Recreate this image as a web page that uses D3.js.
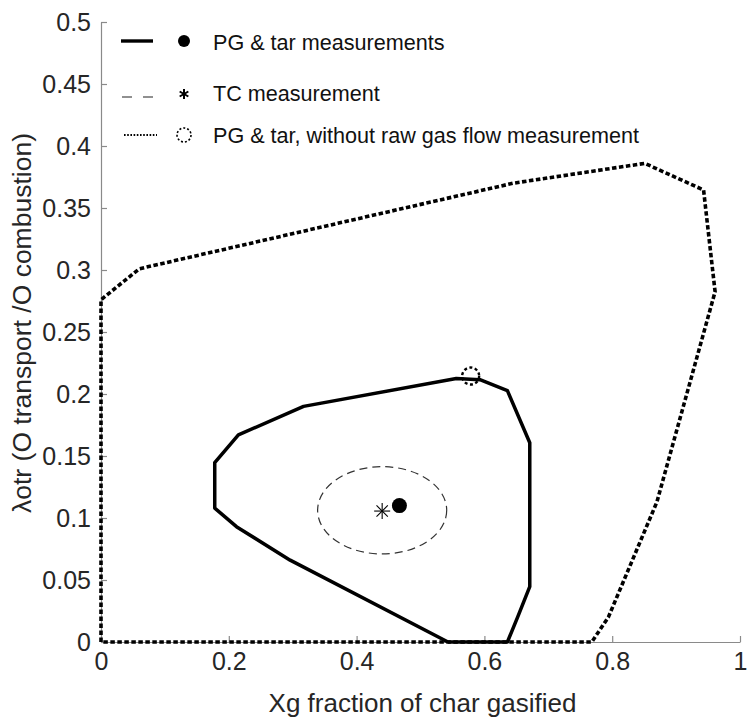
<!DOCTYPE html>
<html>
<head>
<meta charset="utf-8">
<script src="https://cdn.jsdelivr.net/npm/d3@7"></script>
<style>
  html, body { margin: 0; padding: 0; background: #fff; }
  svg { display: block; font-family: "Liberation Sans", Arial, Helvetica, sans-serif; }
</style>
</head>
<body>
<svg id="chart" width="748" height="717"></svg>
<script>
// Operating envelope without raw gas flow measurement (dotted boundary)
const envelopeNoFlowX = [0, 0, 0.06, 0.645, 0.851, 0.943, 0.961, 0.870, 0.794, 0.768, 0];
const envelopeNoFlowY = [0, 0.276, 0.301, 0.370, 0.386, 0.3645, 0.2825, 0.113, 0.020, 0, 0];

// Envelope with PG & tar measurements (solid boundary)
const envelopePGX = [0.543, 0.296, 0.212, 0.178, 0.178, 0.215, 0.317, 0.556, 0.593, 0.636, 0.671, 0.671, 0.652, 0.636, 0.543];
const envelopePGY = [0, 0.066, 0.093, 0.108, 0.1446, 0.167, 0.190, 0.2125, 0.2115, 0.2027, 0.1607, 0.0446, 0.020, 0, 0];

// TC measurement uncertainty ellipse: centre and half-widths
const tcEllipseCenter = [0.440, 0.1062];
const tcEllipseRadius = [0.101, 0.0352];

// Point estimates
const pointPG = [0.467, 0.110];
const pointTC = [0.440, 0.1056];
const pointNoFlow = [0.5785, 0.2145];

// Axis ticks
const xTicks = [0, 0.2, 0.4, 0.6, 0.8, 1];
const xTickLabels = ["0", "0.2", "0.4", "0.6", "0.8", "1"];
const yTicks = [0, 0.05, 0.1, 0.15, 0.2, 0.25, 0.3, 0.35, 0.4, 0.45, 0.5];
const yTickLabels = ["0", "0.05", "0.1", "0.15", "0.2", "0.25", "0.3", "0.35", "0.4", "0.45", "0.5"];

// Legend entries
const legendLabels = [
  "PG & tar measurements",
  "TC measurement",
  "PG & tar, without raw gas flow measurement"
];

const svg = d3.select("#chart");
const x = d3.scaleLinear().domain([0, 1]).range([101, 740]);
const y = d3.scaleLinear().domain([0, 0.5]).range([642, 22]);

const axisColor = "#8a8a8a";
const textColor = "#262626";

// Axes (ticks pointing inward)
const gx = svg.append("g").attr("transform", `translate(0,${y(0)})`)
  .call(d3.axisBottom(x).tickValues(xTicks).tickFormat((d, i) => xTickLabels[i])
    .tickSizeInner(-6).tickSizeOuter(0).tickPadding(10));
const gy = svg.append("g").attr("transform", `translate(${x(0)},0)`)
  .call(d3.axisLeft(y).tickValues(yTicks).tickFormat((d, i) => yTickLabels[i])
    .tickSizeInner(-6).tickSizeOuter(0).tickPadding(10));
[gx, gy].forEach(g => {
  g.select(".domain").attr("stroke", axisColor).attr("stroke-width", 1.2);
  g.selectAll(".tick line").attr("stroke", axisColor).attr("stroke-width", 1.2);
  g.selectAll(".tick text").attr("fill", textColor).style("font-size", "25px")
    .style("font-family", "'Liberation Sans', Arial, sans-serif");
});

// Axis titles
svg.append("text")
  .attr("x", (x(0) + x(1)) / 2 + 2).attr("y", 712)
  .attr("text-anchor", "middle").attr("fill", textColor)
  .style("font-size", "26px")
  .text("Xg fraction of char gasified");
svg.append("text")
  .attr("transform", `translate(31,323) rotate(-90)`)
  .attr("text-anchor", "middle").attr("fill", textColor)
  .style("font-size", "26.5px")
  .text("λotr (O transport /O combustion)");

const line = d3.line().x(d => x(d[0])).y(d => y(d[1]));

// Dotted envelope
svg.append("path")
  .datum(envelopeNoFlowX.map((v, i) => [v, envelopeNoFlowY[i]]))
  .attr("d", line).attr("fill", "none").attr("stroke", "#000")
  .attr("stroke-width", 3.6).attr("stroke-dasharray", "4.5 2.5")
  .attr("stroke-linejoin", "miter");

// Solid envelope
svg.append("path")
  .datum(envelopePGX.map((v, i) => [v, envelopePGY[i]]))
  .attr("d", line).attr("fill", "none").attr("stroke", "#000")
  .attr("stroke-width", 3.5).attr("stroke-linejoin", "round");

// Dashed ellipse
svg.append("ellipse")
  .attr("cx", x(tcEllipseCenter[0])).attr("cy", y(tcEllipseCenter[1]))
  .attr("rx", x(tcEllipseCenter[0] + tcEllipseRadius[0]) - x(tcEllipseCenter[0]))
  .attr("ry", y(tcEllipseCenter[1]) - y(tcEllipseCenter[1] + tcEllipseRadius[1]))
  .attr("fill", "none").attr("stroke", "#333").attr("stroke-width", 1.2)
  .attr("stroke-dasharray", "8 5");

// Asterisk marker made of crossing strokes
function asterisk(g, cx, cy, r, arms, sw, offset) {
  for (let k = 0; k < arms; k++) {
    const a = Math.PI * k / arms + (offset || 0);
    g.append("line")
      .attr("x1", cx - r * Math.cos(a)).attr("y1", cy - r * Math.sin(a))
      .attr("x2", cx + r * Math.cos(a)).attr("y2", cy + r * Math.sin(a))
      .attr("stroke", "#000").attr("stroke-width", sw);
  }
  return g;
}

// Point markers
svg.append("circle")
  .attr("cx", x(pointPG[0])).attr("cy", y(pointPG[1])).attr("r", 7.5)
  .attr("fill", "#000");
asterisk(svg.append("g"), x(pointTC[0]), y(pointTC[1]), 8, 4, 1.1, 0);
svg.append("circle")
  .attr("cx", x(pointNoFlow[0])).attr("cy", y(pointNoFlow[1])).attr("r", 8.5)
  .attr("fill", "none").attr("stroke", "#000").attr("stroke-width", 2.4)
  .attr("stroke-dasharray", "3 2.5");

// Legend
const legendRows = [42, 93, 135];
const lg = svg.append("g");
// row 1: solid line and filled dot
lg.append("line").attr("x1", 121).attr("x2", 153).attr("y1", legendRows[0] - 1).attr("y2", legendRows[0] - 1)
  .attr("stroke", "#000").attr("stroke-width", 3.4);
lg.append("circle").attr("cx", 184).attr("cy", legendRows[0] - 1).attr("r", 6).attr("fill", "#000");
// row 2: dashed line and asterisk
lg.append("line").attr("x1", 122).attr("x2", 153).attr("y1", legendRows[1] + 4).attr("y2", legendRows[1] + 4)
  .attr("stroke", "#222").attr("stroke-width", 1.2).attr("stroke-dasharray", "10 11");
asterisk(lg.append("g"), 184, legendRows[1] + 1, 5, 3, 2, Math.PI / 2);
// row 3: dotted line and dotted circle
lg.append("line").attr("x1", 124).attr("x2", 157).attr("y1", legendRows[2]).attr("y2", legendRows[2])
  .attr("stroke", "#000").attr("stroke-width", 2).attr("stroke-dasharray", "1.6 1.6");
lg.append("circle").attr("cx", 184).attr("cy", legendRows[2]).attr("r", 7)
  .attr("fill", "none").attr("stroke", "#000").attr("stroke-width", 1.6)
  .attr("stroke-dasharray", "2 2");
lg.selectAll("text.leg").data(legendLabels).join("text")
  .attr("class", "leg")
  .attr("x", 213).attr("y", (d, i) => legendRows[i])
  .attr("dy", "0.36em").attr("fill", "#111")
  .style("font-size", "21.6px")
  .text(d => d);
</script>
</body>
</html>
